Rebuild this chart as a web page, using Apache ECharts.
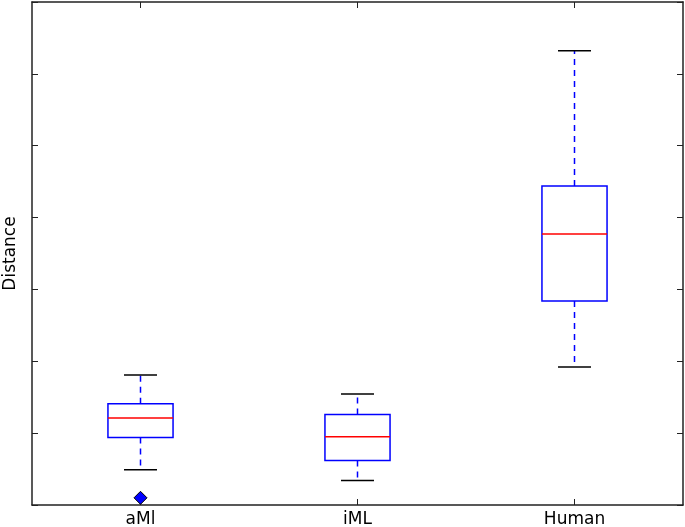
<!DOCTYPE html>
<html><head><meta charset="utf-8">
<script src="https://cdn.jsdelivr.net/npm/echarts@6/dist/echarts.min.js"></script>
<style>html,body{margin:0;padding:0;background:#fff}#c{width:685px;height:527px}</style>
</head><body><div id="c"></div>
<script>
var categories = ['aMl', 'iML', 'Human'];
var lowWhisker = [0.49, 0.34, 1.92];
var q1 = [0.94, 0.62, 2.84];
var median = [1.21, 0.95, 3.77];
var q3 = [1.41, 1.26, 4.44];
var highWhisker = [1.81, 1.545, 6.32];
var outliers = [[0, 0.10]];
var yTicks = [0, 1, 2, 3, 4, 5, 6, 7];

var boxData = categories.map(function (c, i) {
  return [i, lowWhisker[i], q1[i], median[i], q3[i], highWhisker[i]];
});

function renderBox(params, api) {
  var i = api.value(0);
  var lo = api.coord([i, api.value(1)]);
  var b1 = api.coord([i, api.value(2)]);
  var md = api.coord([i, api.value(3)]);
  var b3 = api.coord([i, api.value(4)]);
  var hi = api.coord([i, api.value(5)]);
  var band = api.size([1, 0])[0];
  var hw = band * 0.15;
  var cw = band * 0.076;
  var x = lo[0];
  var blue = '#0000ff';
  var lw = 1.5;
  return {
    type: 'group',
    children: [
      {type: 'line', shape: {x1: x, y1: b3[1], x2: x, y2: hi[1]}, style: {stroke: blue, lineWidth: lw, lineDash: [6, 5]}},
      {type: 'line', shape: {x1: x, y1: b1[1], x2: x, y2: lo[1]}, style: {stroke: blue, lineWidth: lw, lineDash: [6, 5]}},
      {type: 'line', shape: {x1: x - cw, y1: hi[1], x2: x + cw, y2: hi[1]}, style: {stroke: '#000', lineWidth: lw}},
      {type: 'line', shape: {x1: x - cw, y1: lo[1], x2: x + cw, y2: lo[1]}, style: {stroke: '#000', lineWidth: lw}},
      {type: 'rect', shape: {x: x - hw, y: b3[1], width: 2 * hw, height: b1[1] - b3[1]}, style: {fill: 'none', stroke: blue, lineWidth: lw}},
      {type: 'line', shape: {x1: x - hw, y1: md[1], x2: x + hw, y2: md[1]}, style: {stroke: '#ff0000', lineWidth: lw}}
    ]
  };
}

var chart = echarts.init(document.getElementById('c'), null, {renderer: 'canvas'});
function axisLine() { return {show: true, onZero: false, lineStyle: {color: '#222', width: 1.5}}; }
function ticks(extra) { return Object.assign({show: true, inside: true, length: 6, lineStyle: {color: '#222', width: 1}}, extra || {}); }
chart.setOption({
  animation: false,
  grid: {left: 32, right: 2, top: 2, bottom: 22, containLabel: false, outerBoundsMode: 'none'},
  xAxis: [
    {type: 'category', data: categories, position: 'bottom', boundaryGap: true,
     axisLine: axisLine(), axisTick: ticks({alignWithLabel: true}),
     axisLabel: {color: '#000', fontSize: 17, fontFamily: 'DejaVu Sans', margin: 6}, splitLine: {show: false}},
    {type: 'category', data: categories, position: 'top', boundaryGap: true,
     axisLine: axisLine(), axisTick: ticks({alignWithLabel: true}),
     axisLabel: {show: false}, splitLine: {show: false}}
  ],
  yAxis: [
    {type: 'value', min: 0, max: 7, interval: 1, position: 'left',
     name: 'Distance', nameLocation: 'middle', nameGap: 13,
     nameTextStyle: {color: '#000', fontSize: 17, fontFamily: 'DejaVu Sans'},
     axisLine: axisLine(), axisTick: ticks(), axisLabel: {show: false}, splitLine: {show: false}},
    {type: 'value', min: 0, max: 7, interval: 1, position: 'right',
     axisLine: axisLine(), axisTick: ticks(), axisLabel: {show: false}, splitLine: {show: false}}
  ],
  series: [
    {type: 'custom', renderItem: renderBox, data: boxData, xAxisIndex: 0, yAxisIndex: 0,
     encode: {x: 0, y: [1, 2, 3, 4, 5]}},
    {type: 'scatter', data: outliers, symbol: 'diamond', symbolSize: 13,
     itemStyle: {color: '#0000ff', borderColor: '#000', borderWidth: 1, opacity: 1}}
  ]
});
</script></body></html>
